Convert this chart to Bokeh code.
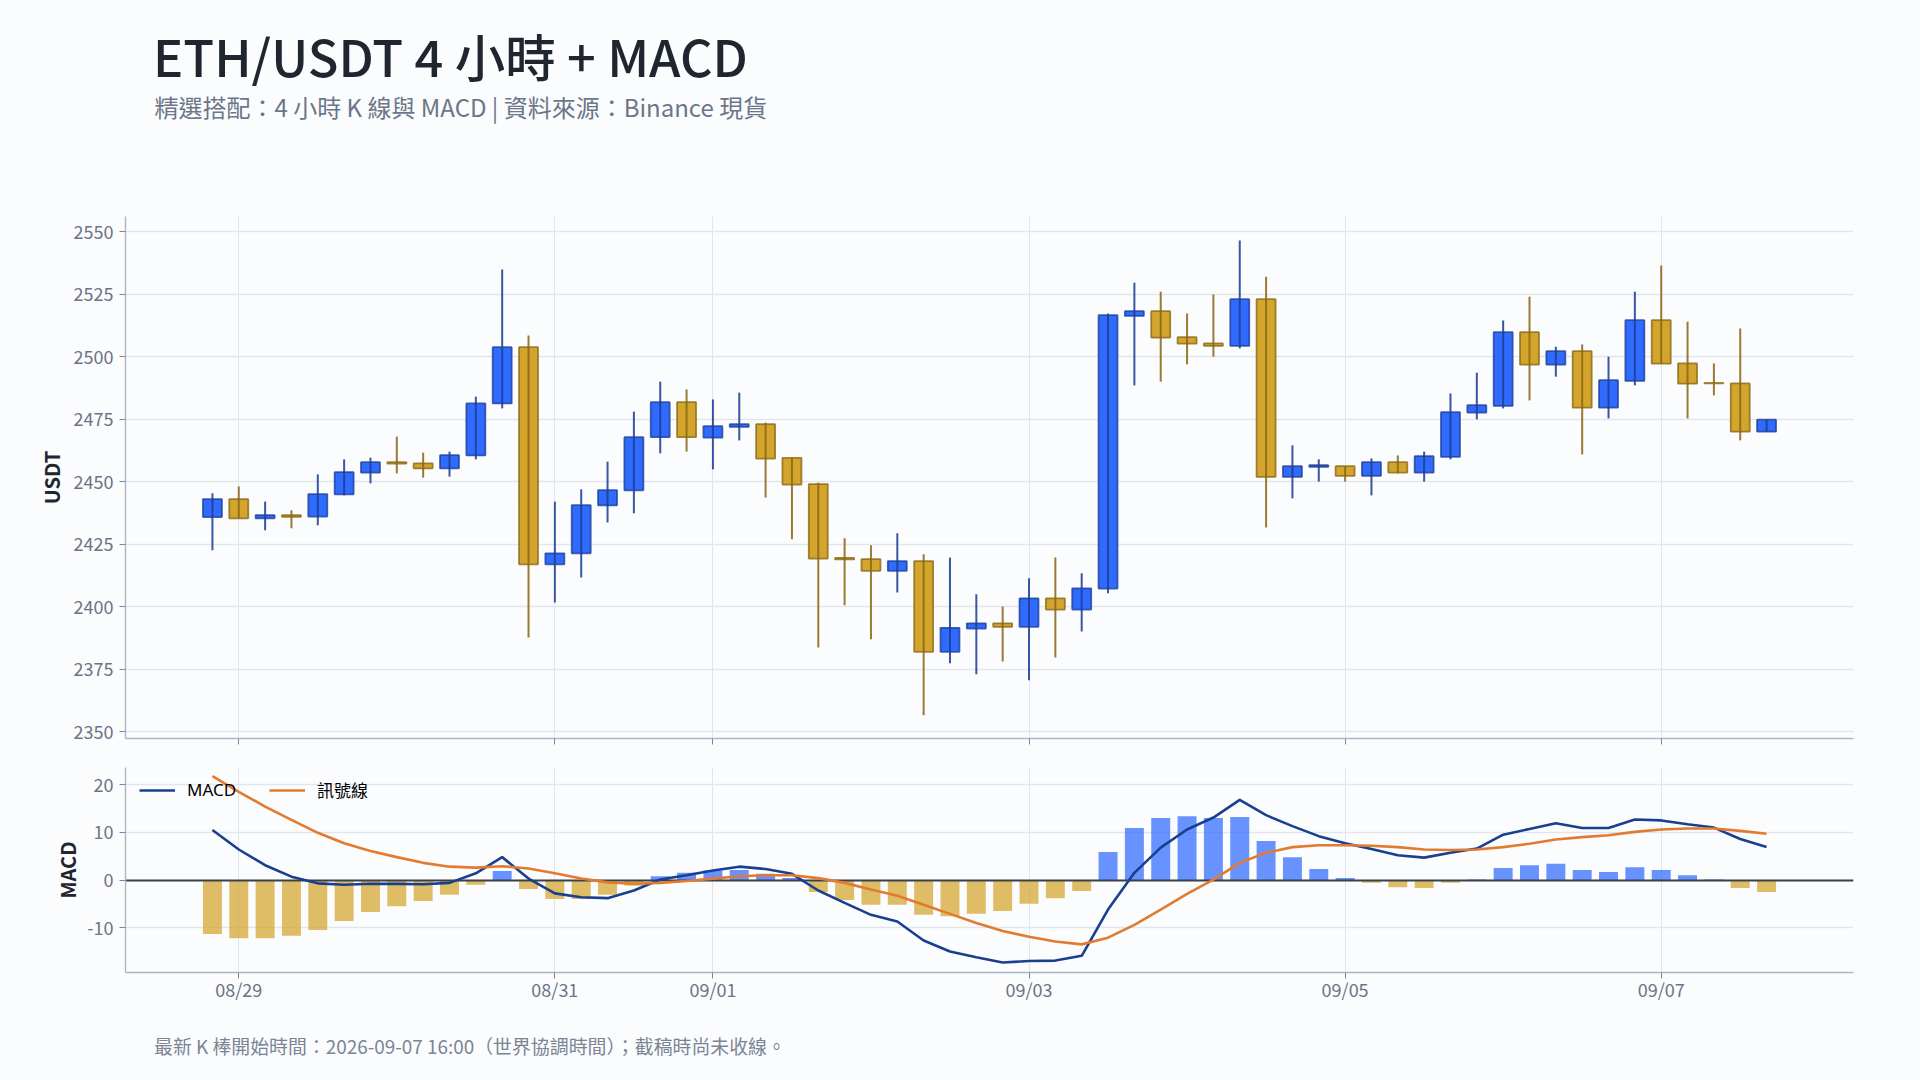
from bokeh.plotting import figure
from bokeh.layouts import column
from bokeh.core.properties import value
from bokeh.models import ColumnDataSource, FixedTicker, Legend, LegendItem, Range1d
from bokeh.embed import file_html
from bokeh.resources import INLINE

FONT = "Noto Sans CJK TC"
LEGEND_FONT = "Noto Sans, Noto Sans CJK TC"
TITLE_FONT = "Noto Sans CJK TC Medium, Noto Sans CJK TC"
BG = "#fbfcfe"

# index 0 = 08/28 20:00, one bar each 4 hours, last = 09/07 16:00
opens = [2435.9,2443.1,2435.4,2436.7,2436.1,2445.0,2453.7,2457.9,2457.4,2455.4,
         2460.6,2481.4,2503.9,2417.0,2421.4,2440.6,2446.6,2467.9,2481.9,2467.7,
         2472.0,2473.1,2459.6,2449.1,2419.6,2419.1,2414.4,2418.3,2382.0,2391.3,
         2393.4,2392.0,2403.4,2398.9,2407.3,2516.4,2518.3,2507.9,2505.4,2504.4,
         2523.1,2452.0,2456.0,2456.3,2452.4,2457.9,2453.7,2460.0,2477.7,2480.4,
         2509.9,2496.9,2502.3,2479.7,2490.4,2514.7,2497.4,2489.6,2489.4,2470.1]
closes = [2443.1,2435.4,2436.7,2436.0,2445.1,2453.9,2457.9,2457.3,2455.4,2460.7,
          2481.4,2503.9,2417.0,2421.4,2440.7,2446.7,2467.9,2481.9,2467.9,2472.3,
          2473.1,2459.3,2448.9,2419.3,2419.0,2414.4,2418.3,2382.0,2391.6,2393.4,
          2392.0,2403.4,2398.9,2407.4,2516.7,2518.3,2507.7,2505.3,2504.4,2523.1,
          2452.0,2456.3,2456.7,2452.4,2457.9,2453.7,2460.3,2477.9,2480.7,2509.9,
          2496.9,2502.3,2479.7,2490.7,2514.7,2497.3,2489.3,2489.4,2470.1,2474.9]
highs = [2445.4,2448.1,2442.1,2438.6,2453.0,2459.0,2459.7,2468.1,2461.7,2462.1,
         2484.1,2535.0,2508.6,2442.1,2447.0,2458.1,2478.1,2490.1,2487.0,2483.0,
         2485.7,2473.7,2459.6,2449.7,2427.4,2424.6,2429.4,2421.0,2419.7,2405.0,
         2400.1,2411.4,2419.7,2413.4,2517.4,2529.7,2526.1,2517.4,2525.0,2546.6,
         2532.1,2464.6,2459.0,2456.3,2459.4,2460.6,2462.1,2485.4,2493.7,2514.6,
         2524.1,2504.1,2505.0,2500.1,2526.1,2536.6,2514.1,2497.4,2511.4,2474.9]
lows = [2422.6,2435.4,2430.6,2431.4,2432.6,2444.6,2449.4,2453.4,2451.7,2452.1,
        2459.0,2479.4,2387.7,2401.7,2411.7,2433.7,2437.4,2461.4,2462.1,2455.0,
        2466.6,2443.7,2427.0,2383.7,2400.6,2387.0,2405.7,2356.6,2377.4,2373.0,
        2378.1,2370.6,2379.7,2390.1,2405.4,2488.6,2490.1,2497.0,2500.1,2503.4,
        2431.7,2443.4,2450.1,2450.1,2444.6,2453.4,2450.1,2459.0,2475.0,2479.4,
        2482.6,2492.1,2461.0,2475.4,2488.6,2497.3,2475.4,2484.6,2466.6,2470.1]
macd = [10.5,6.4,3.1,0.7,-0.7,-1.0,-0.8,-0.8,-0.9,-0.6,
        1.4,4.8,0.3,-2.8,-3.6,-3.8,-2.2,0.1,1.0,2.0,
        2.8,2.3,1.3,-2.2,-4.8,-7.3,-8.7,-12.7,-15.0,-16.2,
        -17.3,-17.0,-16.9,-15.9,-6.2,1.5,6.8,10.6,13.1,16.8,
        13.6,11.3,9.2,7.7,6.5,5.2,4.7,5.7,6.6,9.5,
        10.7,11.9,10.9,10.9,12.7,12.5,11.7,11.0,8.6,6.9]
signal = [21.8,18.5,15.4,12.6,9.9,7.7,6.1,4.8,3.6,2.8,
          2.6,2.9,2.4,1.4,0.3,-0.5,-0.8,-0.6,-0.2,0.3,
          0.8,1.0,1.0,0.4,-0.6,-2.0,-3.3,-5.2,-7.1,-9.0,
          -10.7,-11.9,-12.9,-13.5,-12.1,-9.4,-6.2,-2.9,0.1,3.6,
          5.7,6.9,7.3,7.3,7.2,6.9,6.4,6.3,6.4,6.9,
          7.6,8.5,9.0,9.4,10.1,10.6,10.8,10.8,10.3,9.7]
hist = [-11.3,-12.2,-12.2,-11.7,-10.5,-8.6,-6.7,-5.5,-4.4,-3.1,
        -1.0,1.9,-1.9,-4.0,-4.0,-3.1,-1.2,0.8,1.5,2.0,
        2.1,1.3,0.4,-2.5,-4.2,-5.2,-5.2,-7.3,-7.6,-7.1,
        -6.5,-5.0,-3.8,-2.3,5.9,10.9,13.0,13.4,13.0,13.2,
        8.2,4.8,2.3,0.4,-0.6,-1.5,-1.7,-0.6,0.1,2.5,
        3.1,3.4,2.1,1.7,2.7,2.1,1.0,0.1,-1.7,-2.5]
tick_positions = [1, 13, 19, 31, 43, 55]
tick_labels = ["08/29", "08/31", "09/01", "09/03", "09/05", "09/07"]
price_ticks = [2350, 2375, 2400, 2425, 2450, 2475, 2500, 2525, 2550]
macd_ticks = [-10, 0, 10, 20]
macd_tick_labels = ["-10", "0", "10", "20"]

TITLE = "ETH/USDT 4 小時 + MACD"
SUBTITLE = "精選搭配：4 小時 K 線與 MACD | 資料來源：Binance 現貨"
FOOTER = "最新 K 棒開始時間：2026-09-07 16:00（世界協調時間）；截稿時尚未收線。"

BLUE, BLUE_EDGE, GOLD, GOLD_EDGE = "#2f6bff", "#1f3f99", "#d4a52c", "#8b6914"
xs = list(range(len(opens)))
candle = ColumnDataSource(dict(
    x=xs, high=highs, low=lows,
    top=[max(o, c) for o, c in zip(opens, closes)],
    bottom=[min(o, c) for o, c in zip(opens, closes)],
    fill=[BLUE if c >= o else GOLD for o, c in zip(opens, closes)],
    edge=[BLUE_EDGE if c >= o else GOLD_EDGE for o, c in zip(opens, closes)],
))
bars = ColumnDataSource(dict(x=xs, top=hist, bottom=[0] * len(hist),
                             fill=[BLUE if h >= 0 else GOLD for h in hist]))
x_range = Range1d(-3.30, 62.30)


def style(p, yticks):
    p.background_fill_color = BG
    p.border_fill_color = BG
    p.outline_line_color = None
    p.xgrid.ticker = FixedTicker(ticks=tick_positions)
    p.ygrid.ticker = FixedTicker(ticks=yticks)
    p.xgrid.grid_line_color = "#e2e5eb"
    p.ygrid.grid_line_color = "#e2e5eb"
    p.xgrid.grid_line_width = 1
    p.ygrid.grid_line_width = 1.4
    for ax in (p.xaxis[0], p.yaxis[0]):
        ax.axis_line_color = "#adb5c3"
        ax.axis_line_width = 1.4
        ax.major_tick_line_color = "#7d8696"
        ax.major_tick_line_width = 1
        ax.major_tick_out = 6
        ax.major_tick_in = 0
        ax.minor_tick_line_color = None
        ax.major_label_text_font = FONT
        ax.major_label_text_font_size = "18px"
        ax.major_label_text_color = "#6b7484"
        ax.axis_label_text_font = FONT
        ax.axis_label_text_font_style = "bold"
        ax.axis_label_text_font_size = "20px"
        ax.axis_label_text_color = "#1f2630"
    p.yaxis[0].major_label_standoff = 6
    p.xaxis[0].ticker = FixedTicker(ticks=tick_positions)
    p.yaxis[0].ticker = FixedTicker(ticks=yticks)


def text_strip(height):
    s = figure(width=1912, height=height, x_range=Range1d(125, 1853), y_range=Range1d(height, 0),
               x_axis_type=None, y_axis_type=None, frame_height=height,
               output_backend="svg", toolbar_location=None,
               min_border_left=125, min_border_right=59, min_border_top=0, min_border_bottom=0)
    s.background_fill_color = BG
    s.border_fill_color = BG
    s.outline_line_color = None
    s.grid.visible = False
    return s


head = text_strip(140)
head.text(x=[152.5], y=[54], text=[TITLE], text_font=value(TITLE_FONT), text_font_size="50.5px",
          text_color="#1f2630", text_baseline="alphabetic", text_align="left")
head.text(x=[154], y=[106], text=[SUBTITLE], text_font=value(FONT), text_font_size="24px",
          text_color="#6b7688", text_baseline="alphabetic", text_align="left")

top = figure(width=1912, height=612, x_range=x_range, y_range=Range1d(2347.3, 2556.2),
             output_backend="svg", toolbar_location=None,
             min_border_left=125, min_border_right=59, min_border_top=76, min_border_bottom=14)
style(top, price_ticks)
top.xaxis[0].major_label_overrides = {t: "" for t in tick_positions}
top.xaxis[0].major_label_standoff = 0
top.yaxis[0].axis_label = "USDT"
top.yaxis[0].axis_label_standoff = 5
top.vbar(x="x", width=0.72, top="top", bottom="bottom", source=candle,
         fill_color="fill", line_color="edge", line_width=1.8, line_alpha=0.8)
top.segment(x0="x", x1="x", y0="low", y1="high", source=candle,
            line_color="edge", line_width=2, line_alpha=0.88)

low = figure(width=1912, height=260, x_range=x_range, y_range=Range1d(-19.4, 23.6),
             output_backend="svg", toolbar_location=None,
             min_border_left=125, min_border_right=59, min_border_top=15, min_border_bottom=40)
style(low, macd_ticks)
low.xaxis[0].major_label_overrides = {t: s for t, s in zip(tick_positions, tick_labels)}
low.xaxis[0].major_label_standoff = -3
low.yaxis[0].major_label_overrides = {t: s for t, s in zip(macd_ticks, macd_tick_labels)}
low.yaxis[0].axis_label = "MACD"
low.yaxis[0].axis_label_standoff = 2
low.vbar(x="x", width=0.72, top="top", bottom="bottom", source=bars,
         fill_color="fill", fill_alpha=0.72, line_color=None)
low.hspan(y=[0], line_color="#3c4149", line_width=2)
r_macd = low.line(xs, macd, line_color="#1a3f8f", line_width=2.6)
r_sig = low.line(xs, signal, line_color="#e27b2f", line_width=2.6)
legend = Legend(items=[LegendItem(label="MACD", renderers=[r_macd]),
                       LegendItem(label="訊號線", renderers=[r_sig])],
                orientation="horizontal", location=(14, 170), padding=0, margin=0,
                spacing=33, label_standoff=12, glyph_width=36, glyph_height=20,
                background_fill_alpha=0, border_line_alpha=0,
                label_text_font=LEGEND_FONT, label_text_font_size="17px", label_text_color="#000000")
low.add_layout(legend, "center")

foot = text_strip(60)
foot.text(x=[153.5], y=[33], text=[FOOTER], text_font=value(FONT), text_font_size="18.9px",
          text_color="#7a8494", text_baseline="alphabetic", text_align="left")

page = column(head, top, low, foot, spacing=0)
html = file_html(page, INLINE, title="ETH/USDT 4 小時 + MACD")
html = html.replace("<head>", "<head><style>html,body{background:%s;}</style>" % BG, 1)
open("out.html", "w").write(html)
